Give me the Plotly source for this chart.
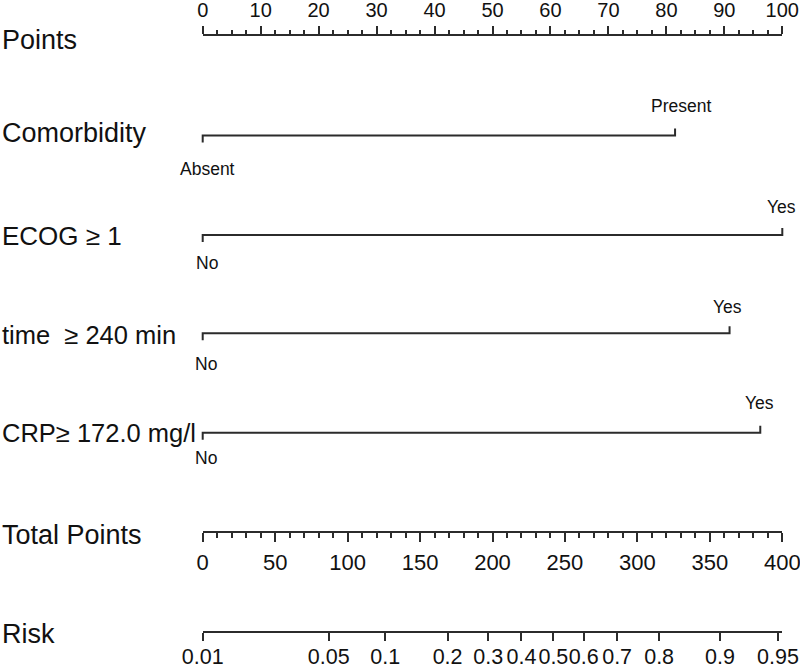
import plotly.graph_objects as go

# ---------------- data ----------------
points_ticks = [0, 10, 20, 30, 40, 50, 60, 70, 80, 90, 100]
total_ticks = [0, 50, 100, 150, 200, 250, 300, 350, 400]
risk_labels = ["0.01", "0.05", "0.1", "0.2", "0.3", "0.4", "0.5", "0.6", "0.7", "0.8", "0.9", "0.95"]
risk_total_points = [0, 87, 126, 169, 197, 220, 242, 263, 286, 315, 357, 397]

variables = ["Comorbidity", "ECOG \u2265 1", "time\u00a0 \u2265 240 min", "CRP\u2265 172.0 mg/l"]
level_low = ["Absent", "No", "No", "No"]
level_high = ["Present", "Yes", "Yes", "Yes"]
low_points = [0, 0, 0, 0]
high_points = [81.5, 100, 90.9, 96.2]

# ---------------- layout constants (pixels) ----------------
W, H = 800, 670
PX0, PX100 = 202.7, 782.3          # pixel x of 0 and 100 points
SCALE = (PX100 - PX0) / 100.0
XMIN = -PX0 / SCALE
XMAX = (W - PX0) / SCALE
row_y = [135.5, 235, 333.3, 432.7]
POINTS_Y, TOTAL_Y, RISK_Y = 35, 532, 632.3
LINE_COL = "#2b2b2b"
TEXT_COL = "#111111"
FONT = "Liberation Sans, Arial, sans-serif"
END_TICK = 7
low_xshift = [5, 4, 3, 3]
high_xshift = [6, -1, -2, -1]
low_dy = [33, 28, 31, 25.5]
high_dy = [-30, -28.5, -26.5, -29.5]

fig = go.Figure()

# variable rows
for i, var in enumerate(variables):
    y0 = row_y[i]
    fig.add_trace(go.Scatter(
        x=[low_points[i], low_points[i], high_points[i], high_points[i]],
        y=[y0 + END_TICK, y0, y0, y0 - END_TICK],
        mode="lines", line=dict(color=LINE_COL, width=2),
        hoverinfo="skip", showlegend=False, xaxis="x", yaxis="y"))
    fig.add_annotation(x=low_points[i], y=y0 + low_dy[i], xref="x", yref="y",
                       text=level_low[i], showarrow=False, xshift=low_xshift[i],
                       font=dict(family=FONT, size=17.5, color=TEXT_COL))
    fig.add_annotation(x=high_points[i], y=y0 + high_dy[i], xref="x", yref="y",
                       text=level_high[i], showarrow=False, xshift=high_xshift[i],
                       font=dict(family=FONT, size=17.5, color=TEXT_COL))

# invisible traces to register the scale axes
fig.add_trace(go.Scatter(x=points_ticks, y=[None] * len(points_ticks), xaxis="x2", yaxis="y",
                         mode="markers", showlegend=False, hoverinfo="skip"))
fig.add_trace(go.Scatter(x=total_ticks, y=[None] * len(total_ticks), xaxis="x3", yaxis="y",
                         mode="markers", showlegend=False, hoverinfo="skip"))
fig.add_trace(go.Scatter(x=risk_total_points, y=[None] * len(risk_total_points), xaxis="x4", yaxis="y",
                         mode="markers", showlegend=False, hoverinfo="skip"))

# left labels
left_labels = ["Points"] + variables + ["Total Points", "Risk"]
left_y = [40, 133, 236, 335, 433, 535, 634]
left_size = [27, 27, 26, 25.5, 25.5, 27, 27]
for lab, yy, fs in zip(left_labels, left_y, left_size):
    fig.add_annotation(x=0, y=yy, xref="paper", yref="y", text=lab, showarrow=False,
                       xanchor="left", yanchor="middle", xshift=0,
                       font=dict(family=FONT, size=fs, color=TEXT_COL))

dom = [PX0 / W, PX100 / W]
common = dict(showline=True, linecolor=LINE_COL, linewidth=2, ticks="outside",
              tickcolor=LINE_COL, tickwidth=1.5, showgrid=False, zeroline=False,
              anchor="free", domain=dom, tickangle=0, fixedrange=True, automargin=False,
              ticklabeloverflow="allow")

fig.update_layout(
    width=W, height=H, margin=dict(l=0, r=0, t=0, b=0, pad=0, autoexpand=False),
    paper_bgcolor="white", plot_bgcolor="rgba(0,0,0,0)",
    xaxis=dict(range=[XMIN, XMAX], domain=[0, 1], visible=False, fixedrange=True, automargin=False),
    yaxis=dict(range=[H, 0], domain=[0, 1], visible=False, fixedrange=True, automargin=False),
    xaxis2=dict(range=[0, 100], side="top", position=1 - POINTS_Y / H,
                tickmode="array", tickvals=points_ticks, ticktext=[str(v) for v in points_ticks],
                ticklen=8, ticklabelstandoff=1,
                minor=dict(dtick=2.5, tick0=0, ticklen=4, ticks="outside",
                           tickcolor=LINE_COL, tickwidth=1.5, showgrid=False),
                tickfont=dict(family=FONT, size=20, color=TEXT_COL), **common),
    xaxis3=dict(range=[0, 400], side="bottom", position=1 - TOTAL_Y / H,
                tickmode="array", tickvals=total_ticks, ticktext=[str(v) for v in total_ticks],
                ticklen=9, ticklabelstandoff=2,
                minor=dict(dtick=10, tick0=0, ticklen=5, ticks="outside",
                           tickcolor=LINE_COL, tickwidth=1.5, showgrid=False),
                tickfont=dict(family=FONT, size=22, color=TEXT_COL), **common),
    xaxis4=dict(range=[0, 400], side="bottom", position=1 - RISK_Y / H,
                tickmode="array", tickvals=risk_total_points, ticktext=risk_labels,
                ticklen=8, ticklabelstandoff=-3,
                tickfont=dict(family=FONT, size=21.5, color=TEXT_COL), **common),
)

fig.write_html("out.html", config={"displayModeBar": False},
               post_script="document.body.style.margin='0';document.body.style.overflow='hidden';")
